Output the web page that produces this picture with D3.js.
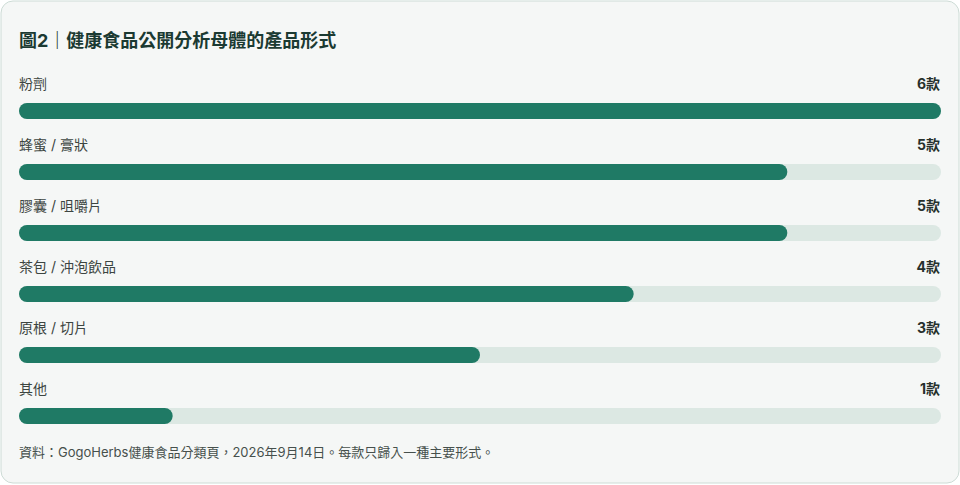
<!DOCTYPE html>
<html lang="zh-Hant">
<head>
<meta charset="utf-8">
<script src="https://cdn.jsdelivr.net/npm/d3@7"></script>
<style>
  body { margin: 0; background: #ffffff; }
  svg { display: block; font-family: "Inter", "Noto Sans CJK TC", "Noto Sans", sans-serif; }
</style>
</head>
<body>
<script>
var title = "圖2｜健康食品公開分析母體的產品形式";
var categories = ["粉劑", "蜂蜜 / 膏狀", "膠囊 / 咀嚼片", "茶包 / 沖泡飲品", "原根 / 切片", "其他"];
var counts = [6, 5, 5, 4, 3, 1];
var unit = "款";
var note = "資料：GogoHerbs健康食品分類頁，2026年9月14日。每款只歸入一種主要形式。";

var width = 960, height = 485;
var margin = {left: 19, right: 19, top: 84};
var barH = 16;

var svg = d3.select("body").append("svg")
    .attr("width", width)
    .attr("height", height);

// card
svg.append("rect")
    .attr("x", 1).attr("y", 1)
    .attr("width", width - 2).attr("height", height - 3)
    .attr("rx", 12)
    .attr("fill", "#f5f7f6")
    .attr("stroke", "#cddcd6");

svg.append("text")
    .attr("x", margin.left).attr("y", 47)
    .attr("font-size", 18).attr("font-weight", 700)
    .attr("fill", "#1b3a32")
    .text(title);

var data = categories.map(function (c, i) { return {name: c, value: counts[i]}; });

var xScale = d3.scaleLinear().domain([0, d3.max(counts)]).range([margin.left, width - margin.right]);
var yScale = d3.scalePoint().domain(categories).range([margin.top, margin.top + 305]);

var rows = svg.selectAll("g.row").data(data).enter()
    .append("g").attr("class", "row")
    .attr("transform", function (d) { return "translate(0," + yScale(d.name) + ")"; });

rows.append("text")
    .attr("x", margin.left).attr("y", 5)
    .attr("font-size", 14)
    .attr("fill", "#3c4541")
    .text(function (d) { return d.name; });

rows.append("text")
    .attr("x", width - margin.right - 1).attr("y", 5)
    .attr("text-anchor", "end")
    .attr("font-size", 14).attr("font-weight", 700)
    .attr("fill", "#26302c")
    .text(function (d) { return d.value + unit; });

rows.append("rect")
    .attr("x", xScale(0)).attr("y", 19)
    .attr("width", xScale.range()[1] - xScale(0))
    .attr("height", barH).attr("rx", barH / 2)
    .attr("fill", "#dce8e3");

rows.append("rect")
    .attr("x", xScale(0)).attr("y", 19)
    .attr("width", function (d) { return xScale(d.value) - xScale(0); })
    .attr("height", barH).attr("rx", barH / 2)
    .attr("fill", "#1f7a65");

svg.append("text")
    .attr("x", margin.left).attr("y", 457)
    .attr("font-size", 13)
    .attr("fill", "#46504c")
    .text(note);
</script>
</body>
</html>
